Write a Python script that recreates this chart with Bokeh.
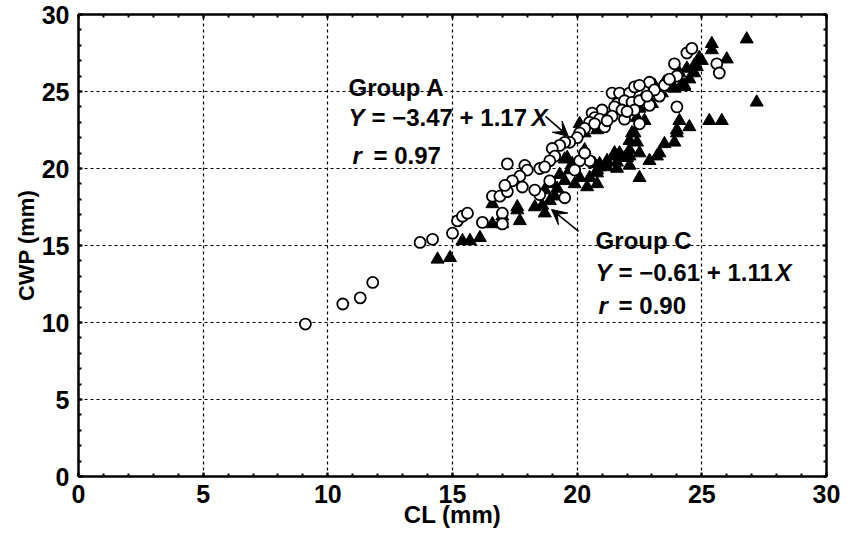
from bokeh.plotting import figure
from bokeh.models import (Label, Arrow, VeeHead, LinearAxis, SingleIntervalTicker,
                          ColumnDataSource, Range1d, CustomLabelingPolicy)
from bokeh.embed import file_html
from bokeh.resources import INLINE

# ---------------- data ----------------
groupA_x = [9.1, 10.6, 11.3, 11.8, 13.7, 14.2, 15.0, 15.2, 15.4, 15.6, 16.2, 16.6, 16.9, 17.2,
            17.0, 17.0, 17.8, 18.5, 18.9, 19.5, 17.2, 17.9, 18.0, 18.5, 17.7, 17.4, 17.1, 18.3,
            21.4, 21.7, 22.1, 22.3, 21.6, 21.9, 22.2, 21.5, 21.0, 20.6, 20.7, 20.9, 20.5, 20.7,
            21.1, 20.3, 20.1, 20.0, 19.7, 19.5, 19.3, 19.0, 19.1, 18.9, 18.7, 20.5, 20.1, 24.4,
            24.6, 23.9, 25.6, 25.7, 24.0, 22.9, 22.5, 22.5, 22.9, 21.9, 22.5, 24.0, 23.3, 20.3,
            19.9, 23.1, 23.5, 23.7, 21.4, 21.2, 21.8, 22.3, 22.0, 22.8]
groupA_y = [9.9, 11.2, 11.6, 12.6, 15.2, 15.4, 15.8, 16.6, 16.9, 17.1, 16.5, 18.2, 18.2, 18.5,
            17.1, 16.4, 18.8, 18.3, 19.2, 18.1, 20.3, 20.2, 19.9, 20.0, 19.5, 19.2, 18.9, 18.6,
            24.9, 24.9, 24.9, 25.3, 24.2, 24.4, 24.3, 24.0, 23.8, 23.6, 23.3, 23.2, 23.0, 22.9,
            22.7, 22.6, 22.3, 22.0, 21.7, 21.7, 21.5, 21.3, 20.8, 20.5, 20.1, 20.5, 20.5, 27.5,
            27.8, 26.8, 26.8, 26.2, 26.0, 25.6, 25.4, 24.4, 24.1, 23.2, 22.9, 24.0, 24.7, 21.0,
            19.9, 25.1, 25.4, 25.8, 23.4, 23.1, 23.8, 23.8, 23.7, 24.7]

groupC_x = [14.4, 14.9, 15.4, 15.7, 16.1, 16.6, 16.6, 17.0, 17.6, 17.7, 18.3, 18.7, 18.9, 19.6,
            20.3, 19.7, 21.5, 21.7, 22.0, 20.9, 21.2, 21.6, 20.8, 22.1, 22.1, 22.2, 25.4, 26.8,
            26.0, 25.0, 24.8, 24.7, 24.5, 24.2, 23.9, 23.5, 24.3, 27.2, 25.3, 25.8, 24.1, 24.5,
            24.0, 22.3, 22.7, 23.4, 22.4, 24.0, 23.9, 23.5, 23.3, 23.2, 22.9, 22.5, 22.1, 21.9,
            21.5, 22.1, 21.6, 21.2, 20.9, 20.7, 20.8, 20.5, 20.1, 19.9, 22.5, 19.5, 19.2, 19.1,
            18.7, 18.6, 25.4, 24.9, 24.7, 24.4, 24.1, 23.9, 23.1, 23.7, 24.3, 22.0, 22.4, 22.5,
            20.8, 20.3, 20.1, 19.5, 17.6, 17.0, 19.8, 19.3, 19.0, 20.8, 20.4, 22.6, 23.0]
groupC_y = [14.1, 14.2, 15.3, 15.3, 15.5, 17.7, 16.4, 16.4, 17.5, 16.6, 17.5, 17.1, 17.9, 20.7,
            21.2, 19.9, 21.0, 21.0, 20.7, 20.3, 20.5, 20.4, 19.9, 21.2, 21.8, 22.3, 28.1, 28.4,
            27.1, 27.0, 26.6, 26.2, 25.8, 25.5, 25.2, 25.6, 25.3, 24.3, 23.1, 23.1, 23.1, 22.7,
            22.5, 22.3, 23.1, 24.9, 21.7, 22.3, 21.7, 21.6, 21.0, 20.8, 20.5, 21.0, 20.8, 20.7,
            20.8, 20.2, 20.0, 20.1, 20.1, 20.3, 19.7, 19.4, 19.4, 19.0, 19.4, 19.2, 18.7, 18.2,
            18.6, 17.6, 27.7, 27.2, 26.7, 26.5, 26.2, 25.9, 25.4, 25.3, 25.4, 23.8, 23.3, 23.9,
            22.5, 22.3, 22.9, 20.6, 17.3, 16.9, 20.3, 19.6, 19.0, 19.0, 18.8, 24.5, 24.2]

axis_ticks = [0, 5, 10, 15, 20, 25, 30]
x_label = "CL (mm)"
y_label = "CWP (mm)"

groupA_title = "Group A"
groupA_eq = "= \u22123.47 + 1.17"
groupA_r = "= 0.97"
groupC_title = "Group C"
groupC_eq = "= \u22120.61 + 1.11"
groupC_r = "= 0.90"

# annotation anchors (data units)
A_text_x, A_r_x = 10.83, 10.99
A_title_y, A_eq_y, A_r_y = 25.26, 23.31, 20.84
A_arrow = (18.73, 23.38, 19.65, 22.08)
C_text_x, C_r_x = 20.74, 20.86
C_title_y, C_eq_y, C_r_y = 15.32, 13.25, 11.10
C_arrow = (20.06, 15.91, 18.97, 17.34)

FONT = "Liberation Sans"

p = figure(width=845, height=536, output_backend="svg", toolbar_location=None,
           x_range=Range1d(0, 30), y_range=Range1d(0, 30),
           min_border_left=78, min_border_right=19, min_border_top=14, min_border_bottom=60,
           x_axis_label=x_label, y_axis_label=y_label)
p.background_fill_color = "white"
p.border_fill_color = "white"
p.outline_line_color = "black"
p.outline_line_width = 2

ticker = SingleIntervalTicker(interval=5, num_minor_ticks=5)
for ax in (p.xaxis[0], p.yaxis[0]):
    ax.ticker = ticker
    ax.axis_line_width = 2
    ax.axis_line_color = "black"
    ax.major_tick_in = 4
    ax.major_tick_out = 0
    ax.minor_tick_in = 3
    ax.minor_tick_out = 0
    ax.major_tick_line_width = 2
    ax.minor_tick_line_width = 2
    ax.major_label_text_font = FONT
    ax.major_label_text_font_style = "bold"
    ax.major_label_text_font_size = "25px"
    ax.major_label_text_color = "black"
    ax.axis_label_text_font = FONT
    ax.axis_label_text_font_style = "bold"
    ax.axis_label_text_color = "black"

p.xaxis[0].major_label_standoff = 8
p.xaxis[0].axis_label_standoff = -5
p.xaxis[0].axis_label_text_font_size = "24px"
p.yaxis[0].major_label_standoff = 9
p.yaxis[0].axis_label_standoff = 0
p.yaxis[0].axis_label_text_font_size = "22px"

no_labels = CustomLabelingPolicy(code="for (const i of Array.from(indices)) { indices.unset(i) }\nreturn indices")
for loc in ("right", "above"):
    ax = LinearAxis(ticker=ticker, major_label_policy=no_labels, major_label_standoff=0,
                    major_tick_in=4, major_tick_out=0, minor_tick_in=3, minor_tick_out=0,
                    major_tick_line_width=2, minor_tick_line_width=2,
                    axis_line_width=2, axis_line_color="black")
    p.add_layout(ax, loc)

p.grid.ticker = ticker
p.grid.grid_line_color = "black"
p.grid.grid_line_dash = "3 3"
p.grid.grid_line_width = 1.2

srcC = ColumnDataSource(dict(x=groupC_x, y=groupC_y))
srcA = ColumnDataSource(dict(x=groupA_x, y=groupA_y))
p.scatter("x", "y", source=srcC, marker="triangle", size=13, fill_color="black",
          line_color="black", line_width=1)
p.scatter("x", "y", source=srcA, marker="circle", size=11, fill_color="white",
          line_color="black", line_width=1.8)

for (x0, y0, x1, y1) in (A_arrow, C_arrow):
    p.add_layout(Arrow(end=VeeHead(size=15, fill_color="black", line_color="black"),
                       x_start=x0, y_start=y0, x_end=x1, y_end=y1,
                       line_color="black", line_width=1.6))


def txt(x, y, text, style="bold", xoff=0):
    p.add_layout(Label(x=x, y=y, text=text, x_offset=xoff, text_font=FONT,
                       text_font_size="24px", text_font_style=style, text_color="black",
                       text_align="left", text_baseline="alphabetic"))


txt(A_text_x, A_title_y, groupA_title)
txt(A_text_x, A_eq_y, "Y", "bold italic")
txt(A_text_x, A_eq_y, groupA_eq, "bold", 23)
txt(A_text_x, A_eq_y, "X", "bold italic", 183)
txt(A_r_x, A_r_y, "r", "bold italic")
txt(A_r_x, A_r_y, groupA_r, "bold", 21)

txt(C_text_x, C_title_y, groupC_title)
txt(C_text_x, C_eq_y, "Y", "bold italic")
txt(C_text_x, C_eq_y, groupC_eq, "bold", 23)
txt(C_text_x, C_eq_y, "X", "bold italic", 180)
txt(C_r_x, C_r_y, "r", "bold italic")
txt(C_r_x, C_r_y, groupC_r, "bold", 20)

open("out.html", "w").write(file_html(p, INLINE))
